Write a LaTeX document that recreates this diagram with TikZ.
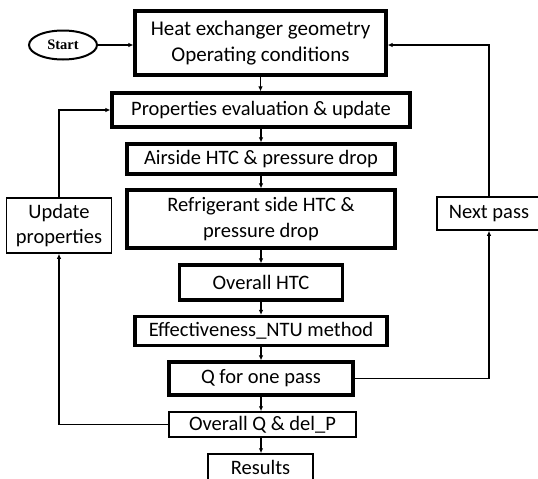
\documentclass[tikz,border=0pt]{standalone}
\usepackage{fontspec}
\setmainfont{Carlito}
\newfontfamily\startfont{Liberation Serif}
\usetikzlibrary{arrows.meta,shapes.geometric,calc}
\begin{document}
\begin{tikzpicture}[x=1pt,y=-1pt,
  box/.style={draw,rectangle,inner sep=0pt,align=center,font=\fontsize{20.5}{25.5}\selectfont},
  thickbox/.style={box,line width=3.2pt},
  thinbox/.style={box,line width=1.5pt},
  conn/.style={line width=1.5pt,-{Latex[length=5pt,width=4.5pt]}},
  line/.style={line width=1.5pt}]
\useasboundingbox[fill=white] (0,0) rectangle (538,479);
\clip (0,0) rectangle (538,479);
\node[draw,ellipse,line width=2pt,minimum width=68pt,minimum height=29pt,inner sep=0pt,font=\startfont\bfseries\fontsize{14.5}{16}\selectfont] (start) at (63,45) {Start};
\node[thickbox,minimum width=251pt,minimum height=64pt,font=\fontsize{21}{26}\selectfont] (b1) at (260.5,43) {Heat exchanger geometry\\Operating conditions};
\node[thickbox,minimum width=298pt,minimum height=34pt] (b2) at (261,110) {Properties evaluation \& update};
\node[thickbox,minimum width=268pt,minimum height=30pt] (b3) at (261,159) {Airside HTC \& pressure drop};
\node[thickbox,minimum width=268pt,minimum height=58pt] (b4) at (261,219) {Refrigerant side HTC \&\\pressure drop};
\node[thickbox,minimum width=163pt,minimum height=35pt] (b5) at (261,282.5) {Overall HTC};
\node[thickbox,minimum width=252pt,minimum height=29pt] (b6) at (261,331) {Effectiveness\_NTU method};
\node[thickbox,minimum width=184pt,minimum height=33pt] (b7) at (261,378.5) {Q for one pass};
\node[thinbox,minimum width=187pt,minimum height=25pt] (b8) at (262.5,424.5) {Overall Q \& del\_P};
\node[thinbox,minimum width=105pt,minimum height=26pt] (b9) at (260.5,467) {Results};
\node[thinbox,minimum width=105pt,minimum height=55pt] (up) at (59,225.5) {Update\\properties};
\node[thinbox,minimum width=104pt,minimum height=33pt] (np) at (489,213.5) {Next pass};
\draw[conn,line width=1.2pt] (start.east) -- (b1.west |- start.east);
\draw[conn] (b1.south) -- (b1.south |- b2.north);
\draw[conn] (b2.south) -- (b2.south |- b3.north);
\draw[conn] (b3.south) -- (b3.south |- b4.north);
\draw[conn] (b4.south) -- (b4.south |- b5.north);
\draw[conn] (b5.south) -- (b5.south |- b6.north);
\draw[conn] (b6.south) -- (b6.south |- b7.north);
\draw[conn] (b7.south) -- (b7.south |- b8.north);
\draw[conn] (b8.south -| b7.south) -- (b7.south |- b9.north);
\draw[conn] (b8.west) -| (up.south);
\draw[conn] (up.north) |- (b2.west);
\draw[conn] (b7.east) -| (np.south);
\draw[conn] (np.north) |- (b1.east |- start.east);
\end{tikzpicture}
\end{document}
